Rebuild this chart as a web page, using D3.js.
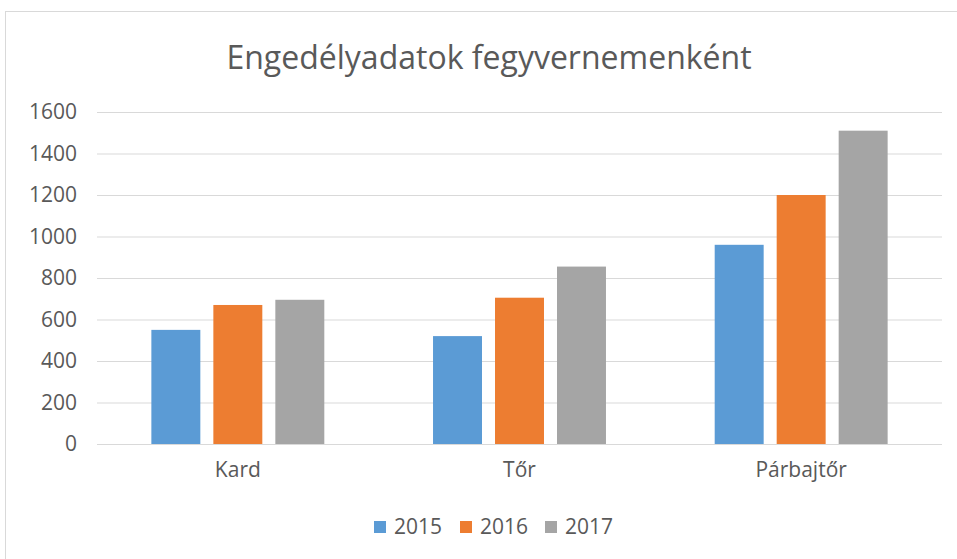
<!DOCTYPE html>
<html>
<head>
<meta charset="utf-8">
<script src="https://cdn.jsdelivr.net/npm/d3@7"></script>
<style>
  body { margin: 0; background: #fff; }
  svg text { font-family: "Open Sans", sans-serif; fill: #595959; }
  .axis .domain { display: none; }
</style>
</head>
<body>
<div id="chart"></div>
<script>
const categories = ['Kard', 'Tőr', 'Párbajtőr'];
const years = ['2015', '2016', '2017'];
const values2015 = [550, 520, 960];
const values2016 = [670, 705, 1200];
const values2017 = [695, 855, 1510];
const yTicks = [0, 200, 400, 600, 800, 1000, 1200, 1400, 1600];
const colors = ['#5B9BD5', '#ED7D31', '#A5A5A5'];

const series = [values2015, values2016, values2017];
const data = categories.map((c, i) => ({ cat: c, vals: years.map((y, j) => ({ year: y, v: series[j][i] })) }));

const width = 957, height = 559;
const margin = { top: 112, right: 15, bottom: 115, left: 97 };

const svg = d3.select('#chart').append('svg')
  .attr('width', width)
  .attr('height', height);

// chart frame
svg.append('rect')
  .attr('x', 5.5).attr('y', 11.5)
  .attr('width', 980).attr('height', 600)
  .attr('fill', '#fff')
  .attr('stroke', '#D9D9D9');

svg.append('text')
  .attr('x', 489).attr('y', 69)
  .attr('text-anchor', 'middle')
  .style('font-size', '32px')
  .text('Engedélyadatok fegyvernemenként');

const x0 = d3.scaleBand()
  .domain(categories)
  .range([margin.left, width - margin.right])
  .paddingInner(0.386)
  .paddingOuter(0.193);

const x1 = d3.scaleBand()
  .domain(years)
  .range([0, x0.bandwidth()])
  .paddingInner(0.21);

const y = d3.scaleLinear()
  .domain([0, 1600])
  .range([height - margin.bottom, margin.top]);

// y axis + gridlines
const yAxis = svg.append('g')
  .attr('class', 'axis axis-y')
  .attr('transform', `translate(${margin.left}, 0)`)
  .call(d3.axisLeft(y).tickValues(yTicks).tickFormat(d3.format('d'))
    .tickSize(-(width - margin.left - margin.right)).tickPadding(20));
yAxis.selectAll('line').attr('stroke', '#D9D9D9');
yAxis.selectAll('text').style('font-size', '21px');

// bars
const groups = svg.append('g').attr('class', 'bars')
  .selectAll('g')
  .data(data)
  .enter().append('g')
  .attr('transform', d => `translate(${x0(d.cat)}, 0)`);

groups.selectAll('rect')
  .data(d => d.vals)
  .enter().append('rect')
  .attr('x', d => x1(d.year))
  .attr('y', d => y(d.v))
  .attr('width', x1.bandwidth())
  .attr('height', d => y(0) - y(d.v))
  .style('fill', (d, i) => colors[i]);

// x axis labels
const xAxis = svg.append('g')
  .attr('class', 'axis axis-x')
  .attr('transform', `translate(0, ${height - margin.bottom})`)
  .call(d3.axisBottom(x0).tickSize(0).tickPadding(18));
xAxis.selectAll('text').style('font-size', '21px');

// legend
const legend = svg.append('g').attr('class', 'legend')
  .attr('transform', 'translate(374, 527)');
const itemX = [0, 86, 171];
const items = legend.selectAll('g')
  .data(years)
  .enter().append('g')
  .attr('transform', (d, i) => `translate(${itemX[i]}, 0)`);
items.append('rect')
  .attr('x', 0).attr('y', -6)
  .attr('width', 12).attr('height', 12)
  .style('fill', (d, i) => colors[i]);
items.append('text')
  .attr('x', 20).attr('y', 0)
  .attr('dy', '0.35em')
  .style('font-size', '21px')
  .text(d => d);
</script>
</body>
</html>
